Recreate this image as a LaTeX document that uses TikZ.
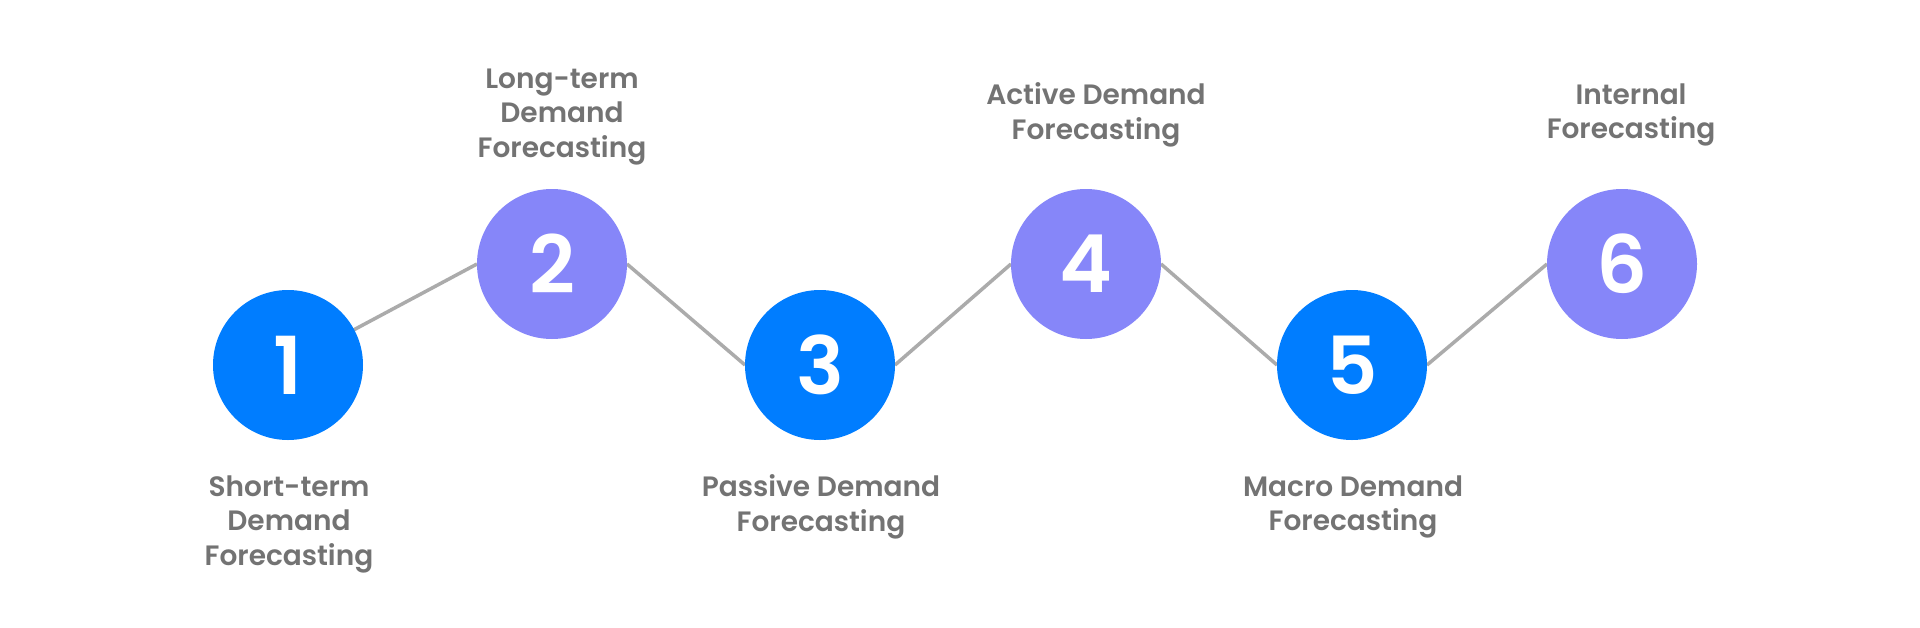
\documentclass[tikz,border=0pt]{standalone}
\usepackage{fontspec}
\setmainfont{Poppins}[BoldFont={Poppins SemiBold}]
\definecolor{cblue}{HTML}{007DFF}
\definecolor{cpurple}{HTML}{8686F9}
\definecolor{cline}{HTML}{ABABAB}
\definecolor{ctext}{HTML}{737373}
\begin{document}
\begin{tikzpicture}[x=1pt,y=-1pt,
  stepcircle/.style={circle,minimum size=150pt,inner sep=0pt,text=white,font=\fontsize{80}{80}\selectfont\bfseries},
  bluecirc/.style={stepcircle,fill=cblue},
  purplecirc/.style={stepcircle,fill=cpurple},
  lbl/.style={align=center,text=ctext,font=\fontsize{28}{34.5}\selectfont\bfseries,inner sep=0pt},
  conn/.style={draw=cline,line width=3.5pt}]
\useasboundingbox (0,0) rectangle (1920,627);
\fill[white] (0,0) rectangle (1920,627);
\coordinate (p1) at (288,365);
\coordinate (p2) at (552,264);
\coordinate (p3) at (820,365);
\coordinate (p4) at (1086,264);
\coordinate (p5) at (1352,365);
\coordinate (p6) at (1622,264);
\coordinate (w2) at (477,264);
% connectors behind circles
\draw[conn] (p1) -- (w2);
\draw[conn] ([xshift=75pt]p2) -- ([xshift=-75pt]p3);
\draw[conn] ([xshift=75pt]p3) -- ([xshift=-75pt]p4);
\draw[conn] ([xshift=75pt]p4) -- ([xshift=-75pt]p5);
\draw[conn] ([xshift=75pt]p5) -- ([xshift=-75pt]p6);
\node[bluecirc] (c1) at (p1) {1};
\node[purplecirc] (c2) at (p2) {2};
\node[bluecirc] (c3) at (p3) {3};
\node[purplecirc] (c4) at (p4) {4};
\node[bluecirc] (c5) at (p5) {5};
\node[purplecirc] (c6) at (p6) {6};
\node[lbl] (l1) at (289,524) {Short-term\\Demand\\Forecasting};
\node[lbl] (l2) at (562,117) {Long-term\\Demand\\Forecasting};
\node[lbl] (l3) at (821,507) {Passive Demand\\Forecasting};
\node[lbl] (l4) at (1096,115) {Active Demand\\Forecasting};
\node[lbl] (l5) at (1353,507) {Macro Demand\\Forecasting};
\node[lbl] (l6) at (1631,115) {Internal\\Forecasting};
\end{tikzpicture}
\end{document}
